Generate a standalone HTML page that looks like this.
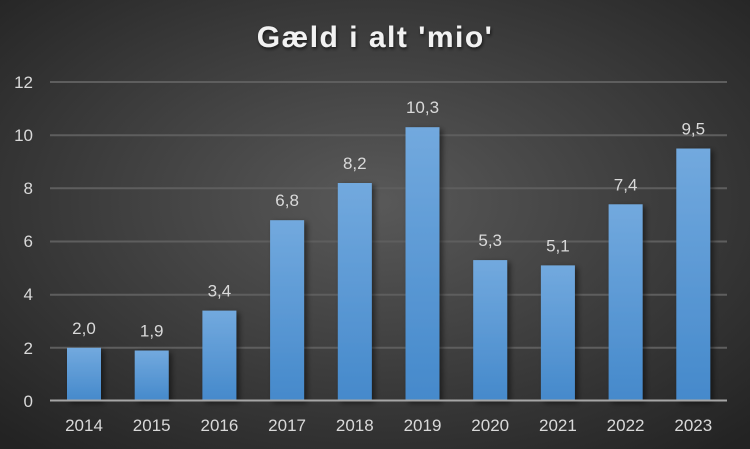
<!DOCTYPE html>
<html><head><meta charset="utf-8"><style>
html,body{margin:0;padding:0;background:#2a2a2a;}
svg{display:block;}
text{font-family:"Liberation Sans",sans-serif;}
</style></head><body>
<svg width="750" height="449" viewBox="0 0 750 449" xmlns="http://www.w3.org/2000/svg">
<defs>
<radialGradient id="bg" cx="50%" cy="45%" r="72%" fx="50%" fy="45%">
<stop offset="0" stop-color="#595959"/>
<stop offset="1" stop-color="#232323"/>
</radialGradient>
<linearGradient id="bar" x1="0" y1="0" x2="0" y2="1">
<stop offset="0" stop-color="#72a9de"/>
<stop offset="1" stop-color="#4589cb"/>
</linearGradient>
<filter id="sh" x="-30%" y="-10%" width="160%" height="120%">
<feGaussianBlur in="SourceAlpha" stdDeviation="3"/>
<feOffset dx="3" dy="2" result="b"/>
<feComponentTransfer><feFuncA type="linear" slope="0.5"/></feComponentTransfer>
<feMerge><feMergeNode/><feMergeNode in="SourceGraphic"/></feMerge>
</filter>
<filter id="tsh" x="-10%" y="-30%" width="120%" height="160%">
<feGaussianBlur in="SourceAlpha" stdDeviation="1.5"/>
<feOffset dx="1" dy="2"/>
<feComponentTransfer><feFuncA type="linear" slope="0.6"/></feComponentTransfer>
<feMerge><feMergeNode/><feMergeNode in="SourceGraphic"/></feMerge>
</filter>
</defs>
<rect x="0" y="0" width="750" height="449" fill="url(#bg)"/>
<text x="375" y="47" text-anchor="middle" font-size="30" font-weight="bold" fill="#f2f2f2" letter-spacing="1.5" filter="url(#tsh)">Gæld i alt 'mio'</text>
<g stroke="#5e5e5e" stroke-width="2">
<line x1="50" y1="82" x2="727" y2="82"/>
<line x1="50" y1="135.2" x2="727" y2="135.2"/>
<line x1="50" y1="188.3" x2="727" y2="188.3"/>
<line x1="50" y1="241.5" x2="727" y2="241.5"/>
<line x1="50" y1="294.7" x2="727" y2="294.7"/>
<line x1="50" y1="347.8" x2="727" y2="347.8"/>
</g>
<g font-size="17" fill="#d9d9d9" text-anchor="end">
<text x="33" y="88">12</text>
<text x="33" y="141">10</text>
<text x="33" y="194">8</text>
<text x="33" y="247">6</text>
<text x="33" y="300">4</text>
<text x="33" y="354">2</text>
<text x="33" y="407">0</text>
</g>
<g fill="url(#bar)" filter="url(#sh)">
<rect x="67" y="347.8" width="34" height="53.2"/>
<rect x="134.7" y="350.5" width="34" height="50.5"/>
<rect x="202.4" y="310.6" width="34" height="90.4"/>
<rect x="270.1" y="220.2" width="34" height="180.8"/>
<rect x="337.8" y="183.0" width="34" height="218"/>
<rect x="405.5" y="127.2" width="34" height="273.8"/>
<rect x="473.2" y="260.1" width="34" height="140.9"/>
<rect x="540.9" y="265.4" width="34" height="135.6"/>
<rect x="608.6" y="204.3" width="34" height="196.7"/>
<rect x="676.3" y="148.5" width="34" height="252.5"/>
</g>
<line x1="50" y1="400.5" x2="727" y2="400.5" stroke="#a6a6a6" stroke-width="2"/>
<g font-size="17" fill="#d9d9d9" text-anchor="middle">
<text x="84" y="334">2,0</text>
<text x="151.7" y="336.5">1,9</text>
<text x="219.4" y="296.6">3,4</text>
<text x="287.1" y="206.2">6,8</text>
<text x="354.8" y="169">8,2</text>
<text x="422.5" y="113.2">10,3</text>
<text x="490.2" y="246.1">5,3</text>
<text x="557.9" y="251.4">5,1</text>
<text x="625.6" y="190.3">7,4</text>
<text x="693.3" y="134.5">9,5</text>
</g>
<g font-size="17" fill="#d9d9d9" text-anchor="middle">
<text x="84" y="431">2014</text>
<text x="151.7" y="431">2015</text>
<text x="219.4" y="431">2016</text>
<text x="287.1" y="431">2017</text>
<text x="354.8" y="431">2018</text>
<text x="422.5" y="431">2019</text>
<text x="490.2" y="431">2020</text>
<text x="557.9" y="431">2021</text>
<text x="625.6" y="431">2022</text>
<text x="693.3" y="431">2023</text>
</g>
</svg>
</body></html>
